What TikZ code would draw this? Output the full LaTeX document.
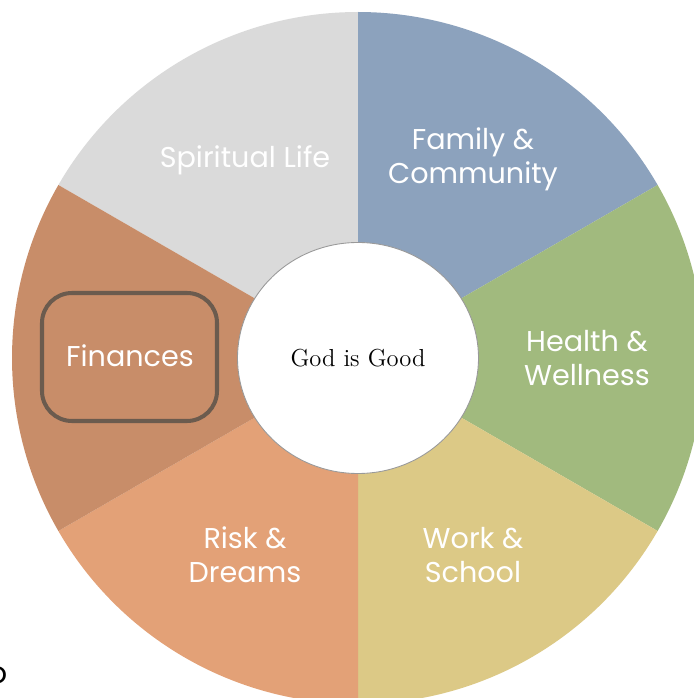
\documentclass[tikz,border=0pt]{standalone}
\usepackage{fontspec}
\newfontfamily\wheelfont{Poppins}
\usetikzlibrary{positioning}

\definecolor{spiritgray}{HTML}{DADADA}
\definecolor{familyblue}{HTML}{8CA2BD}
\definecolor{healthgreen}{HTML}{A1BA7E}
\definecolor{workyellow}{HTML}{DCC986}
\definecolor{riskorange}{HTML}{E3A177}
\definecolor{financebrown}{HTML}{C88D69}
\definecolor{boxline}{HTML}{6B5B4E}

\tikzset{
  slicetext/.style={text=white, align=center, font=\wheelfont\fontsize{16.3}{19.4}\selectfont},
}

\begin{document}
\begin{tikzpicture}
        \useasboundingbox (0,0) rectangle (13.88,13.96);
        \coordinate (c) at (7.16,6.80);
        % the six slices of the wheel
        \foreach \a/\col in {90/spiritgray, 30/familyblue, -30/healthgreen,
                            -90/workyellow, -150/riskorange, 150/financebrown} {
          \fill[\col] (c) -- ++(\a:6.92) arc (\a:\a+60:6.92) -- cycle;
        }
        % hub
        \draw[gray!80, line width=0.5pt, fill=white] (c) ellipse (2.41 and 2.31);
        \node[font=\fontsize{14}{17}\selectfont] (hub) at (c) {God is Good};
        % slice labels
        \node[slicetext] (spirit) at (4.90,10.76) {Spiritual Life};
        \node[slicetext] (family) at (9.46,10.78) {Family \&\\Community};
        \node[slicetext] (health) at (11.74,6.80) {Health \&\\Wellness};
        \node[slicetext] (work) at (9.46,2.86) {Work \&\\School};
        \node[slicetext] (risk) at (4.90,2.86) {Risk \&\\Dreams};
        \node[slicetext] (fin) at (2.60,6.84) {Finances};
        \node[draw=boxline, line width=2.3pt, rounded corners=0.6cm,
              minimum width=3.5cm, minimum height=2.56cm] (finbox) at (2.59,6.82) {};
        \node[font=\wheelfont\fontsize{17}{19}\selectfont, anchor=center] (stray) at (-0.04,0.46) {o};
      \end{tikzpicture}
\end{document}
